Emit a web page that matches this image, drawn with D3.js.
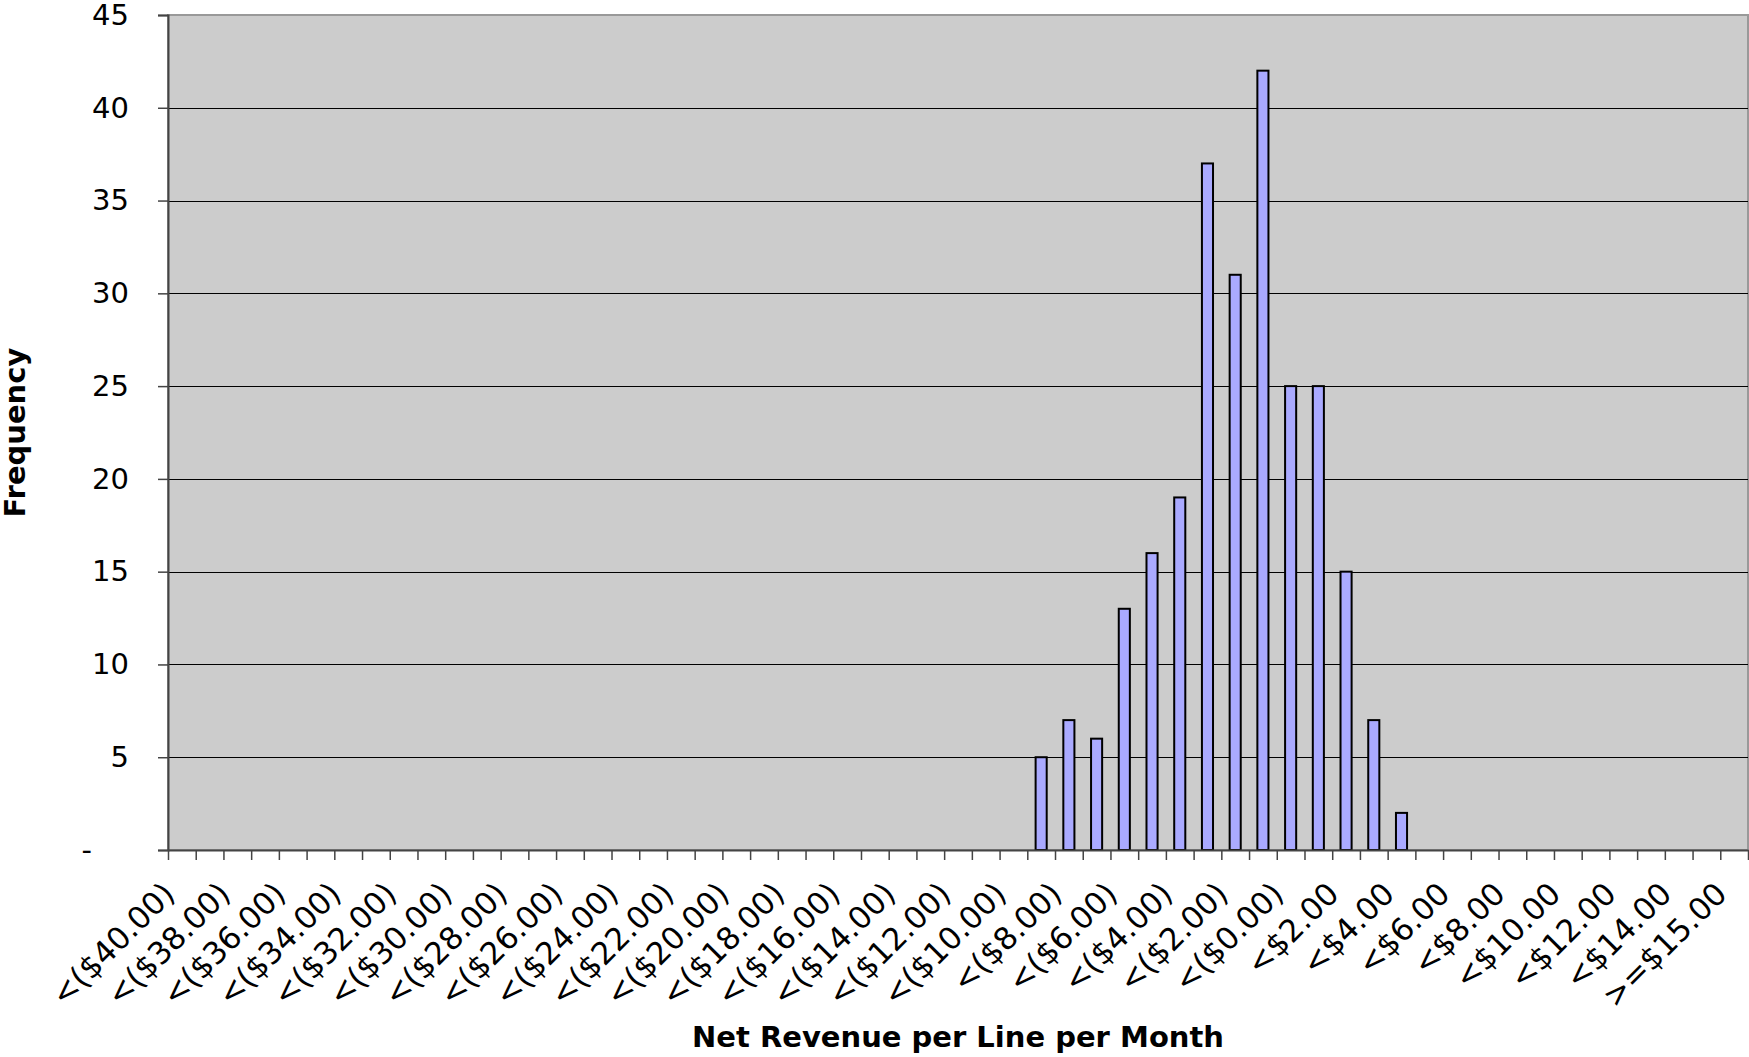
<!DOCTYPE html>
<html>
<head>
<meta charset="utf-8">
<script src="https://cdn.jsdelivr.net/npm/d3@7"></script>
<style>
  body { margin: 0; background: #fff; }
  text { font-family: "DejaVu Sans", Verdana, sans-serif; }
</style>
</head>
<body>
<div id="chart"></div>
<script>
// bins of net revenue per line per month
var categories = [
  "<($40.00)", "<($39.00)", "<($38.00)", "<($37.00)", "<($36.00)", "<($35.00)",
  "<($34.00)", "<($33.00)", "<($32.00)", "<($31.00)", "<($30.00)", "<($29.00)",
  "<($28.00)", "<($27.00)", "<($26.00)", "<($25.00)", "<($24.00)", "<($23.00)",
  "<($22.00)", "<($21.00)", "<($20.00)", "<($19.00)", "<($18.00)", "<($17.00)",
  "<($16.00)", "<($15.00)", "<($14.00)", "<($13.00)", "<($12.00)", "<($11.00)",
  "<($10.00)", "<($9.00)", "<($8.00)", "<($7.00)", "<($6.00)", "<($5.00)",
  "<($4.00)", "<($3.00)", "<($2.00)", "<($1.00)", "<($0.00)",
  "<$1.00", "<$2.00", "<$3.00", "<$4.00", "<$5.00", "<$6.00", "<$7.00",
  "<$8.00", "<$9.00", "<$10.00", "<$11.00", "<$12.00", "<$13.00", "<$14.00",
  "<$15.00", ">=$15.00"
];

var frequency = [
  0, 0, 0, 0, 0, 0, 0, 0, 0, 0, 0, 0, 0, 0, 0, 0, 0, 0, 0, 0,
  0, 0, 0, 0, 0, 0, 0, 0, 0, 0, 0, 5, 7, 6, 13, 16, 19, 37, 31, 42,
  25, 25, 15, 7, 2, 0, 0, 0, 0, 0, 0, 0, 0, 0, 0, 0, 0
];

var yTicks = [0, 5, 10, 15, 20, 25, 30, 35, 40, 45];

var xTitle = "Net Revenue per Line per Month",
    yTitle = "Frequency";

var width = 1749, height = 1057;
var margin = {top: 15, right: 1, bottom: 207, left: 168};
var plotW = width - margin.left - margin.right,
    plotH = height - margin.top - margin.bottom;

var data = categories.map(function(c, i) { return {cat: c, value: frequency[i]}; });

var svg = d3.select("#chart")
  .append("svg")
  .attr("width", width)
  .attr("height", height);

var plot = svg.append("g")
  .attr("transform", "translate(" + margin.left + "," + margin.top + ")");

var x = d3.scaleBand()
  .domain(categories)
  .range([0, plotW])
  .paddingInner(0.6)
  .paddingOuter(0.3);

// category boundaries for the tick marks
var xEdge = d3.scaleLinear()
  .domain([0, categories.length])
  .range([0, plotW]);

var y = d3.scaleLinear()
  .domain([0, 45])
  .range([plotH, 0]);

// plot background
plot.append("rect")
  .attr("width", plotW)
  .attr("height", plotH)
  .attr("fill", "#cccccc")
  .attr("stroke", "#999")
  .attr("stroke-width", 2);

// gridlines
plot.append("g")
  .selectAll("line")
  .data(yTicks.filter(function(d) { return d > 0 && d < 45; }))
  .enter()
  .append("line")
  .attr("x1", 0)
  .attr("x2", plotW)
  .attr("y1", function(d) { return Math.round(y(d)) + 0.5; })
  .attr("y2", function(d) { return Math.round(y(d)) + 0.5; })
  .attr("stroke", "#000")
  .attr("stroke-width", 1);

// bars
plot.append("g")
  .selectAll("rect")
  .data(data.filter(function(d) { return d.value > 0; }))
  .enter()
  .append("rect")
  .attr("x", function(d) { return x(d.cat); })
  .attr("y", function(d) { return y(d.value); })
  .attr("width", x.bandwidth())
  .attr("height", function(d) { return plotH - y(d.value); })
  .attr("fill", "#aaaaff")
  .attr("stroke", "#000")
  .attr("stroke-width", 2);

// y axis
var yAxis = plot.append("g")
  .call(d3.axisLeft(y)
    .tickValues(yTicks)
    .tickSize(10)
    .tickPadding(29)
    .tickFormat(function(d) { return d === 0 ? "-" : d; }));

yAxis.select(".domain").attr("stroke", "#444").attr("stroke-width", 2);
yAxis.selectAll(".tick line").attr("stroke", "#444").attr("stroke-width", 1.5);
yAxis.selectAll(".tick text")
  .attr("font-size", 29)
  .attr("font-family", "DejaVu Sans, Verdana, sans-serif")
  .attr("fill", "#000")
  .attr("dx", function(d) { return d === 0 ? -37 : 0; });

// x axis: ticks at category edges, labels on every other category
var xAxis = plot.append("g")
  .attr("transform", "translate(0," + plotH + ")")
  .call(d3.axisBottom(xEdge)
    .tickValues(d3.range(categories.length + 1))
    .tickSize(10)
    .tickSizeOuter(0)
    .tickFormat(""));

xAxis.select(".domain").attr("stroke", "#444").attr("stroke-width", 2);
xAxis.selectAll(".tick line").attr("stroke", "#444").attr("stroke-width", 1.5);

plot.append("g")
  .selectAll("text")
  .data(data.filter(function(d, i) { return i % 2 === 0; }))
  .enter()
  .append("text")
  .attr("transform", function(d) {
    return "translate(" + (x(d.cat) + x.bandwidth() / 2 - 13) + "," + (plotH + 38) + ") rotate(-45)";
  })
  .attr("text-anchor", "end")
  .attr("dy", "0.35em")
  .attr("font-size", 31)
  .attr("fill", "#000")
  .text(function(d) { return d.cat; });

// axis titles
svg.append("text")
  .attr("x", margin.left + plotW / 2)
  .attr("y", 1047)
  .attr("text-anchor", "middle")
  .attr("font-size", 29)
  .attr("font-weight", "bold")
  .text(xTitle);

svg.append("text")
  .attr("transform", "translate(25," + (margin.top + plotH / 2) + ") rotate(-90)")
  .attr("text-anchor", "middle")
  .attr("font-size", 29)
  .attr("font-weight", "bold")
  .text(yTitle);
</script>
</body>
</html>
